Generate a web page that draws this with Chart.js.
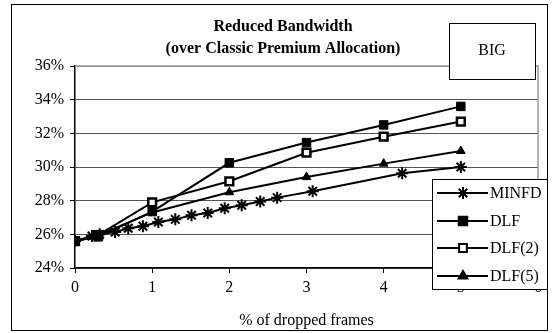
<!DOCTYPE html>
<html>
<head>
<meta charset="utf-8">
<script src="https://cdn.jsdelivr.net/npm/chart.js@4/dist/chart.umd.min.js"></script>
<style>
  html, body { margin: 0; padding: 0; background: #fff; }
  #wrap { width: 556px; height: 333px; position: relative; }
</style>
</head>
<body>
<div id="wrap"><canvas id="chart" width="556" height="333"></canvas></div>
<script>
// Reduced bandwidth vs % of dropped frames
const seriesNames = ['MINFD', 'DLF', 'DLF(2)', 'DLF(5)'];

const minfdX = [0, 0.22, 0.32, 0.52, 0.69, 0.88, 1.08, 1.30, 1.51, 1.72, 1.94, 2.16, 2.40, 2.62, 3.08, 4.24, 5.0];
const minfdY = [25.6, 25.9, 26.0, 26.14, 26.36, 26.48, 26.73, 26.89, 27.13, 27.27, 27.55, 27.73, 27.95, 28.18, 28.56, 29.63, 30.0];

const dlfX = [0, 0.3, 1, 2, 3, 4, 5];
const dlfY = [25.6, 25.85, 27.35, 30.25, 31.45, 32.5, 33.6];

const dlf2X = [0, 0.3, 1, 2, 3, 4, 5];
const dlf2Y = [25.6, 25.95, 27.9, 29.15, 30.85, 31.8, 32.7];

const dlf5X = [0, 0.25, 1, 2, 3, 4, 5];
const dlf5Y = [25.6, 25.85, 27.3, 28.5, 29.4, 30.2, 30.95];

const xTicks = [0, 1, 2, 3, 4, 5, 6];
const yTicks = [24, 26, 28, 30, 32, 34, 36];

const FONT = "'Liberation Serif', 'Times New Roman', serif";

function toPoints(xs, ys) {
    return xs.map((x, i) => ({ x: x, y: ys[i] }));
}

const markers = [
    { pointStyle: 'star', radius: 6, bg: '#000', border: 2 },
    { pointStyle: 'rect', radius: 6, bg: '#000', border: 1 },
    { pointStyle: 'rect', radius: 5.5, bg: '#fff', border: 2.5 },
    { pointStyle: 'triangle', radius: 5, bg: '#000', border: 1 }
];

const allData = [toPoints(minfdX, minfdY), toPoints(dlfX, dlfY), toPoints(dlf2X, dlf2Y), toPoints(dlf5X, dlf5Y)];

const datasets = seriesNames.map((name, i) => ({
    label: name,
    data: allData[i],
    borderColor: '#000',
    borderWidth: 2,
    pointStyle: markers[i].pointStyle,
    pointRadius: markers[i].radius,
    pointBackgroundColor: markers[i].bg,
    pointBorderColor: '#000',
    pointBorderWidth: markers[i].border,
    tension: 0
}));

// frame, title, BIG label and the legend box
const decorations = {
    id: 'decorations',
    beforeDraw(chart) {
        const ctx = chart.ctx;
        ctx.save();
        ctx.fillStyle = '#fff';
        ctx.fillRect(0, 0, chart.width, chart.height);
        ctx.restore();
    },
    afterDatasetsDraw(chart) {
        const ctx = chart.ctx;
        const a = chart.chartArea;
        ctx.save();
        // gray border top/right of plot
        ctx.strokeStyle = '#999';
        ctx.lineWidth = 1.5;
        ctx.beginPath();
        ctx.moveTo(a.left, a.top);
        ctx.lineTo(a.right, a.top);
        ctx.lineTo(a.right, a.bottom);
        ctx.stroke();

        // outer frame
        ctx.strokeStyle = '#000';
        ctx.lineWidth = 1;
        ctx.strokeRect(11.5, 4.5, 536, 326);

        // title
        ctx.fillStyle = '#000';
        ctx.textAlign = 'center';
        ctx.textBaseline = 'alphabetic';
        ctx.font = 'bold 16px ' + FONT;
        ctx.fillText('Reduced Bandwidth', 283, 31);
        ctx.fillText('(over Classic Premium Allocation)', 283, 53);

        // BIG box
        ctx.fillStyle = '#fff';
        ctx.fillRect(449, 23, 86, 56);
        ctx.strokeRect(449.5, 23.5, 86, 56);
        ctx.fillStyle = '#000';
        ctx.font = '16px ' + FONT;
        ctx.textBaseline = 'middle';
        ctx.fillText('BIG', 492, 51);

        // legend
        ctx.fillStyle = '#fff';
        ctx.fillRect(432, 179, 115, 110);
        ctx.strokeRect(432.5, 179.5, 115, 110);
        const rowY = [193, 221, 248, 276];
        datasets.forEach((ds, i) => {
            const y = rowY[i];
            ctx.strokeStyle = '#000';
            ctx.lineWidth = 2;
            ctx.beginPath();
            ctx.moveTo(437, y);
            ctx.lineTo(488, y);
            ctx.stroke();
            ctx.fillStyle = ds.pointBackgroundColor;
            ctx.strokeStyle = '#000';
            Chart.helpers.drawPoint(ctx, {
                pointStyle: ds.pointStyle,
                radius: ds.pointRadius,
                rotation: 0,
                borderWidth: ds.pointBorderWidth
            }, 463, y);
            ctx.fillStyle = '#000';
            ctx.textAlign = 'left';
            ctx.textBaseline = 'middle';
            ctx.font = '16px ' + FONT;
            ctx.fillText(ds.label, 490, y + 1);
        });
        ctx.restore();
    }
};

new Chart(document.getElementById('chart'), {
    type: 'line',
    data: { datasets: datasets },
    plugins: [decorations],
    options: {
        responsive: false,
        animation: false,
        devicePixelRatio: 1,
        layout: { padding: { left: 11, right: 18, top: 66, bottom: 3 } },
        plugins: {
            legend: { display: false },
            title: { display: false },
            tooltip: { enabled: false }
        },
        scales: {
            x: {
                type: 'linear',
                min: 0,
                max: 6,
                afterBuildTicks: (scale) => { scale.ticks = xTicks.map(v => ({ value: v })); },
                afterFit: (scale) => { scale.height = 62; },
                ticks: { color: '#000', font: { family: FONT, size: 16 }, padding: 5 },
                grid: { drawOnChartArea: false, drawTicks: true, tickLength: 5, color: '#000' },
                border: { color: '#000', width: 1.5 },
                title: {
                    display: true,
                    text: '% of dropped frames',
                    color: '#000',
                    font: { family: FONT, size: 16 },
                    padding: { top: 4, bottom: 0 }
                }
            },
            y: {
                min: 24,
                max: 36,
                afterBuildTicks: (scale) => { scale.ticks = yTicks.map(v => ({ value: v })); },
                afterFit: (scale) => { scale.width = 64; },
                ticks: {
                    color: '#000',
                    font: { family: FONT, size: 16 },
                    padding: 6,
                    callback: (v) => v + '%'
                },
                grid: {
                    color: (c) => (c.tick && c.tick.value === 36) ? '#999' : '#555',
                    tickColor: '#000',
                    tickLength: 5,
                    lineWidth: 1
                },
                border: { color: '#000', width: 1.5 }
            }
        }
    }
});
</script>
</body>
</html>
